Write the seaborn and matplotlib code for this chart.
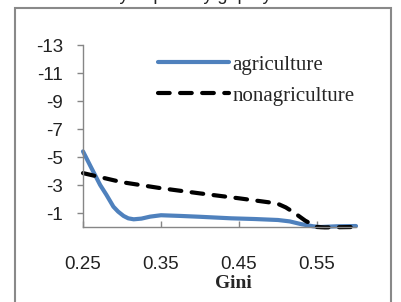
import matplotlib
matplotlib.use("Agg")
import matplotlib.pyplot as plt
import seaborn as sns
import pandas as pd
from matplotlib.patches import Rectangle

# ---- data ----
agri_gini = [0.25, 0.26, 0.272, 0.28, 0.289, 0.295, 0.302, 0.308, 0.315, 0.325, 0.336, 0.35,
             0.375, 0.40, 0.44, 0.47, 0.50, 0.515, 0.53, 0.545, 0.555, 0.575, 0.60]
agri_vals = [-5.4, -4.3, -3.0, -2.3, -1.45, -1.1, -0.79, -0.62, -0.55, -0.6, -0.74, -0.84,
             -0.79, -0.73, -0.62, -0.57, -0.5, -0.4, -0.2, -0.05, 0.0, -0.05, -0.07]
nonagri_gini = [0.25, 0.30, 0.35, 0.40, 0.45, 0.49, 0.50, 0.51, 0.52, 0.535, 0.55, 0.56, 0.60]
nonagri_vals = [-3.85, -3.2, -2.77, -2.4, -2.05, -1.75, -1.65, -1.4, -1.05, -0.45, 0.0, 0.03, 0.0]
series_names = ["agriculture", "nonagriculture"]
x_ticks = [0.25, 0.35, 0.45, 0.55]
y_ticks = [-13, -11, -9, -7, -5, -3, -1]
x_label = "Gini"
title_text = "Elasticity of poverty gap by sector"

sns.set_theme(style="white")
plt.rcParams['font.family'] = ['Liberation Sans', 'DejaVu Sans']

fig = plt.figure(figsize=(4.01, 3.02), dpi=100)
ax = fig.add_axes([83/401, 1-227/302, (356-83)/401, (227-45)/302])

df_a = pd.DataFrame({"Gini": agri_gini, "value": agri_vals})
df_n = pd.DataFrame({"Gini": nonagri_gini, "value": nonagri_vals})

sns.lineplot(data=df_a, x="Gini", y="value", ax=ax, color="#4F81BD", lw=3.0,
             label=series_names[0], solid_capstyle="round", solid_joinstyle="round",
             clip_on=False)
sns.lineplot(data=df_n, x="Gini", y="value", ax=ax, color="black", lw=3.0,
             label=series_names[1], dash_capstyle="round", dash_joinstyle="round",
             clip_on=False)
ax.lines[1].set_dashes((2.8, 2.5))

ax.set_xlim(0.25, 0.6)
ax.set_ylim(0, -13)
ax.set_xticks(x_ticks)
ax.set_xticklabels([f"{t:.2f}" for t in x_ticks])
ax.set_yticks(y_ticks)
ax.set_yticklabels([str(t) for t in y_ticks])

for s in ["top", "right"]:
    ax.spines[s].set_visible(False)
for s in ["left", "bottom"]:
    ax.spines[s].set_color("#868686")
    ax.spines[s].set_linewidth(1.0)

ax.tick_params(axis="x", direction="in", length=4.5, width=1, color="#868686",
               pad=21, labelsize=13.5, labelcolor="#222222")
ax.tick_params(axis="y", direction="out", length=4.5, width=1, color="#868686",
               pad=10, labelsize=13.5, labelcolor="#222222")
ax.tick_params(left=True, bottom=True)

ax.set_xlabel(x_label, fontfamily="Liberation Serif", fontweight="bold", fontsize=14)
ax.xaxis.set_label_coords(0.55, -0.265)
ax.set_ylabel("")

leg = ax.legend(loc="upper left", bbox_to_anchor=(0.245, 0.99), frameon=False,
                prop={"family": "Liberation Serif", "size": 15},
                handlelength=3.4, handletextpad=0.15, labelspacing=0.55,
                borderaxespad=0)

# outer chart frame
fig.patches.append(Rectangle((15/401, -0.1), (391-15)/401, 1.1 - 8/302,
                             transform=fig.transFigure, fill=False,
                             edgecolor="#898989", lw=1.5))

fig.text(57/401, 1.0, title_text, ha="left", va="baseline",
         fontsize=13, color="#222222")

fig.savefig("out.png", dpi=100)
